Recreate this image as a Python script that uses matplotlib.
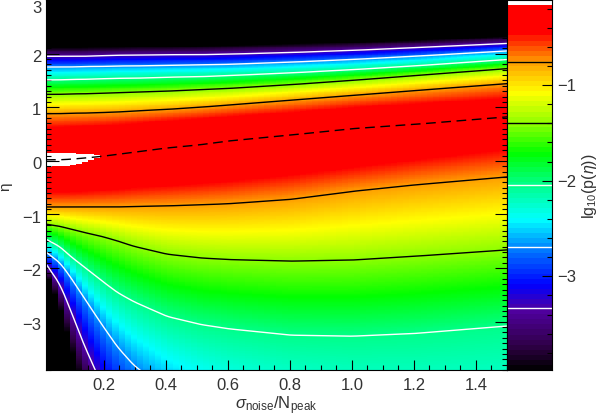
import numpy as np
import matplotlib
matplotlib.use("Agg")
import matplotlib.pyplot as plt
from matplotlib.colors import LinearSegmentedColormap
from matplotlib.ticker import MultipleLocator
from matplotlib.transforms import ScaledTranslation

plt.rcParams['font.family'] = ['Liberation Sans', 'DejaVu Sans']
plt.rcParams['mathtext.fontset'] = 'custom'
plt.rcParams['mathtext.rm'] = 'Liberation Sans'
plt.rcParams['mathtext.it'] = 'Liberation Sans:italic'
plt.rcParams['mathtext.fallback'] = 'stixsans'

# Sigma samples and eta position of each lg10(p) level
sigma = [.013, .058, .09, .132, .187, .242, .294, .403, .51, .6, .8, 1.0, 1.2, 1.5]
up_398 = [2.11, 2.11, 2.11, 2.11, 2.12, 2.12, 2.13, 2.13, 2.14, 2.15, 2.18, 2.21, 2.25, 2.32]
up_333 = [1.95, 1.95, 1.95, 1.95, 1.96, 1.97, 1.97, 1.98, 1.98, 1.99, 2.02, 2.06, 2.11, 2.19]
up_269 = [1.75, 1.75, 1.75, 1.76, 1.76, 1.77, 1.77, 1.78, 1.79, 1.80, 1.84, 1.89, 1.95, 2.05]
up_204 = [1.51, 1.51, 1.52, 1.52, 1.53, 1.54, 1.54, 1.56, 1.57, 1.59, 1.64, 1.70, 1.77, 1.89]
up_140 = [1.24, 1.24, 1.25, 1.25, 1.26, 1.27, 1.28, 1.30, 1.33, 1.35, 1.42, 1.50, 1.59, 1.72]
up_076 = [.88, .88, .89, .89, .90, .91, .93, .96, 1.00, 1.04, 1.13, 1.22, 1.31, 1.44]
up_045 = [.62, .62, .63, .64, .65, .67, .69, .74, .78, .82, .90, .99, 1.06, 1.16]
ridge = [.02, .02, .03, .05, .08, .12, .16, .24, .30, .37, .48, .60, .68, .82]
peak = [-.07, -.075, -.085, -.105, -.15, -.20, -.21, -.22, -.24, -.25, -.27, -.29, -.31, -.33]
low_045 = [-.58, -.58, -.58, -.57, -.55, -.53, -.50, -.46, -.42, -.38, -.26, -.12, .02, .22]
low_076 = [-.86, -.86, -.86, -.86, -.86, -.86, -.85, -.84, -.82, -.80, -.72, -.57, -.45, -.30]
low_140 = [-1.18, -1.22, -1.27, -1.33, -1.40, -1.49, -1.59, -1.74, -1.81, -1.84, -1.87, -1.85, -1.78, -1.66]
low_204 = [-1.46, -1.60, -1.77, -1.96, -2.21, -2.45, -2.62, -2.90, -3.05, -3.13, -3.25, -3.27, -3.22, -3.08]
low_269 = [-1.70, -1.90, -2.15, -2.52, -3.0, -3.46, -3.80, -4.3, -4.7, -5.0, -5.5, -5.8, -6.0, -6.2]
low_333 = [-1.92, -2.3, -2.75, -3.38, -4.1, -4.8, -5.4, -6.3, -6.9, -7.2, -7.7, -8.0, -8.2, -8.4]
low_398 = [-2.1, -2.7, -3.4, -4.2, -5.0, -5.8, -6.5, -7.5, -8.1, -8.4, -8.9, -9.2, -9.4, -9.6]

level_values = [-3.98, -3.33, -2.69, -2.04, -1.40, -0.76, -0.45]
cmap_values = [-3.98, -3.72, -3.36, -3.09, -2.80, -2.41, -2.06, -1.71, -1.41, -1.08, -0.76, -0.60, -0.45, -0.155, -0.15, -0.11]
cmap_colors = ['#000000', '#300048', '#5000a0', '#0000ff', '#0060ff', '#00ffff', '#00ff90', '#00ff00',
               '#88ff00', '#ffff00', '#ffa000', '#ff5000', '#ff0000', '#ff0000', '#ffffff', '#ffffff']
x_ticks = [.2, .4, .6, .8, 1.0, 1.2, 1.4]
x_tick_labels = ['0.2', '0.4', '0.6', '0.8', '1.0', '1.2', '1.4']
y_ticks = [-3, -2, -1, 0, 1, 2, 3]
y_tick_labels = ['\u22123', '\u22122', '\u22121', '0', '1', '2', '3']
cb_ticks = [-3, -2, -1]
cb_tick_labels = ['\u22123', '\u22122', '\u22121']

W, H = 598, 416
TXT = '#333333'
fig = plt.figure(figsize=(W / 100, H / 100), dpi=100)
ax = fig.add_axes([46 / W, 1 - 370 / H, 461 / W, 370 / H])
cax = fig.add_axes([507 / W, 1 - 370 / H, 45 / W, 370 / H])

vmin, vmax = cmap_values[0], cmap_values[-1]
cmap = LinearSegmentedColormap.from_list(
    'rb', [((v - vmin) / (vmax - vmin), c) for v, c in zip(cmap_values, cmap_colors)], N=512)

# Fine sigma axis and a light smoothing of the read curves, so they do not kink at the samples
s_fine = np.linspace(sigma[0], sigma[-1], 744)
def smooth(arr, n=17):
    y = np.interp(s_fine, sigma, arr)
    k = n // 2
    left = y[0] + (y[0] - y[k:0:-1])
    right = y[-1] + (y[-1] - y[-2:-k - 2:-1])
    return np.convolve(np.r_[left, y, right], np.ones(n) / n, mode='valid')

x_edges = np.arange(0.013, 1.5 + 0.0196, 0.0195)
y_edges = np.arange(-3.9, 3.0 + 0.015, 0.015)
xc = 0.5 * (x_edges[:-1] + x_edges[1:])
yc = 0.5 * (y_edges[:-1] + y_edges[1:])

lows = [smooth(a) for a in (low_398, low_333, low_269, low_204, low_140, low_076, low_045)]
ups = [smooth(a) for a in (up_045, up_076, up_140, up_204, up_269, up_333, up_398)]
ridge_s = smooth(ridge)
field = np.zeros((len(yc), len(xc)))
for j, s in enumerate(xc):
    pos = [np.interp(s, s_fine, a) for a in lows] + [np.interp(s, s_fine, ridge_s)] + [np.interp(s, s_fine, a) for a in ups]
    val = level_values + [np.interp(s, sigma, peak)] + level_values[::-1]
    field[:, j] = np.interp(yc, pos, val, left=vmin, right=vmin)
ax.pcolormesh(x_edges, y_edges, field, cmap=cmap, vmin=vmin, vmax=vmax, shading='flat', rasterized=True)

for arr, col in [(up_076, 'k'), (up_140, 'k'), (low_076, 'k'), (low_140, 'k'),
                 (up_204, 'w'), (up_269, 'w'), (up_333, 'w'), (low_204, 'w'), (low_269, 'w'), (low_333, 'w')]:
    ax.plot(s_fine, smooth(arr), color=col, lw=1.0)
ax.plot(s_fine, ridge_s, color='k', lw=1.0, dashes=(7, 4))

ax.set_xlim(0.013, 1.5)
ax.set_ylim(-3.9, 3.0)
ax.set_xticks(x_ticks, x_tick_labels)
ax.set_yticks(y_ticks, y_tick_labels)
ax.xaxis.set_minor_locator(MultipleLocator(0.05))
ax.yaxis.set_minor_locator(MultipleLocator(0.1))
ax.tick_params(which='major', direction='in', length=7, width=0.8, top=True, right=True,
               labelsize=12, labelcolor=TXT, color='k')
ax.tick_params(axis='y', which='major', length=9, pad=3.5)
ax.tick_params(axis='x', which='major', pad=6)
ax.tick_params(which='minor', direction='in', length=3.5, width=0.8, top=True, right=True, color='k')
fig.canvas.draw()
for lab in ax.get_yticklabels():
    shift = 5.0 if lab.get_text() == '3' else 1.5
    lab.set_transform(lab.get_transform() + ScaledTranslation(0, -shift / 72, fig.dpi_scale_trans))

cb_edges = np.linspace(vmin, vmax, 74)
cax.pcolormesh([0, 1], cb_edges, 0.5 * (cb_edges[:-1] + cb_edges[1:])[:, None],
               cmap=cmap, vmin=vmin, vmax=vmax, shading='flat')
for lv, col in zip(level_values[1:6], ['w', 'w', 'w', 'k', 'k']):
    cax.axhline(lv, color=col, lw=1.0)
cax.set_xlim(0, 1)
cax.set_ylim(vmin, vmax)
cax.set_xticks([])
cax.yaxis.tick_right()
cax.set_yticks(cb_ticks, cb_tick_labels)
cax.yaxis.set_minor_locator(MultipleLocator(0.2))
cax.tick_params(which='major', direction='in', length=7, width=0.8, labelsize=12,
                labelcolor=TXT, pad=4)
cax.tick_params(which='minor', direction='in', length=3.5, width=0.8)

fig.text(276 / W, 1 - 409 / H, r'$\sigma_{\rm noise}$/N$_{\rm peak}$', fontsize=12, color=TXT,
         ha='center', va='baseline')
fig.text(5.5 / W, 1 - 187 / H, '\u03b7', fontsize=11, color=TXT, rotation=90, ha='center', va='center')
fig.text(589.5 / W, 1 - 186 / H, r'lg$_{10}$(p($\eta$))', fontsize=11.5, color=TXT, rotation=90,
         ha='center', va='center')

fig.savefig('out.png', dpi=100)
